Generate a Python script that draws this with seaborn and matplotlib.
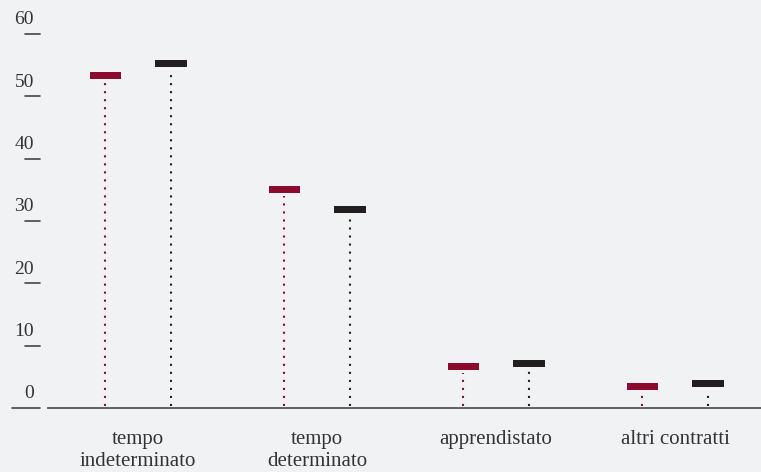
import numpy as np
import pandas as pd
import matplotlib
matplotlib.use("Agg")
import matplotlib.pyplot as plt
import matplotlib.transforms as mtransforms
from matplotlib.path import Path
import seaborn as sns

categorie = ["tempo\nindeterminato", "tempo\ndeterminato", "apprendistato", "altri contratti"]
serie_a = [53.4, 35.0, 6.6, 3.5]   # rosso
serie_b = [55.2, 31.8, 7.2, 3.9]   # nero
y_ticks = [0, 10, 20, 30, 40, 50, 60]

colori = {"a": "#8c0a2e", "b": "#231f20"}
sfondo = "#f1f2f4"
testo = "#333333"

df = pd.DataFrame({
    "cat": list(range(len(categorie))) * 2,
    "serie": ["a"] * len(categorie) + ["b"] * len(categorie),
    "valore": serie_a + serie_b,
})
offset = {"a": -0.184, "b": 0.184}
df["x"] = df["cat"] + df["serie"].map(offset)

sns.set_style("white")
plt.rcParams["font.family"] = ["Liberation Serif", "DejaVu Serif"]

W, H = 761, 472
fig = plt.figure(figsize=(W / 100, H / 100), dpi=100, facecolor=sfondo)
ax = fig.add_axes([48 / W, (H - 408) / H, 1 - 48 / W, (408 - 34) / H])
ax.set_facecolor(sfondo)

# barrette orizzontali
barra = Path([(-1, -0.226), (1, -0.226), (1, 0.226), (-1, 0.226), (-1, -0.226)],
             [Path.MOVETO, Path.LINETO, Path.LINETO, Path.LINETO, Path.CLOSEPOLY])
sns.scatterplot(data=df, x="x", y="valore", hue="serie", palette=colori,
                marker=barra, s=500, linewidth=0, legend=False, ax=ax, zorder=3)

# linee puntinate sotto le barrette
for serie, g in df.groupby("serie"):
    ax.vlines(g["x"], 0.3, g["valore"] - 1.0, colors=colori[serie],
              linestyles=(0, (1, 2.85)), linewidth=1.5, zorder=2)

ax.set_xlim(-0.503, 3.48)
ax.set_ylim(0, 60)
ax.set_xticks(range(len(categorie)))
ax.set_xticklabels(categorie, fontsize=15, color=testo, linespacing=1.2)
ax.tick_params(axis="x", length=0, pad=16)
ax.set_yticks([])
ax.set_xlabel("")
ax.set_ylabel("")
for lato in ["top", "right", "left"]:
    ax.spines[lato].set_visible(False)
ax.spines["bottom"].set_color("#555555")
ax.spines["bottom"].set_linewidth(1.3)

# tacche asse y a sinistra dell'area
tr = mtransforms.blended_transform_factory(fig.transFigure, ax.transData)
lab_tr = mtransforms.offset_copy(tr, fig=fig, x=0, y=4, units="points")
for t in y_ticks:
    x0 = 12 / W if t == 0 else 25 / W
    ax.plot([x0, 40 / W], [t, t], transform=tr, color="#444444", lw=1.2, clip_on=False)
    ax.text(34 / W, t, str(t), transform=lab_tr, ha="right", va="bottom",
            fontsize=14, color=testo)

fig.savefig("out.png", dpi=100, facecolor=sfondo)
